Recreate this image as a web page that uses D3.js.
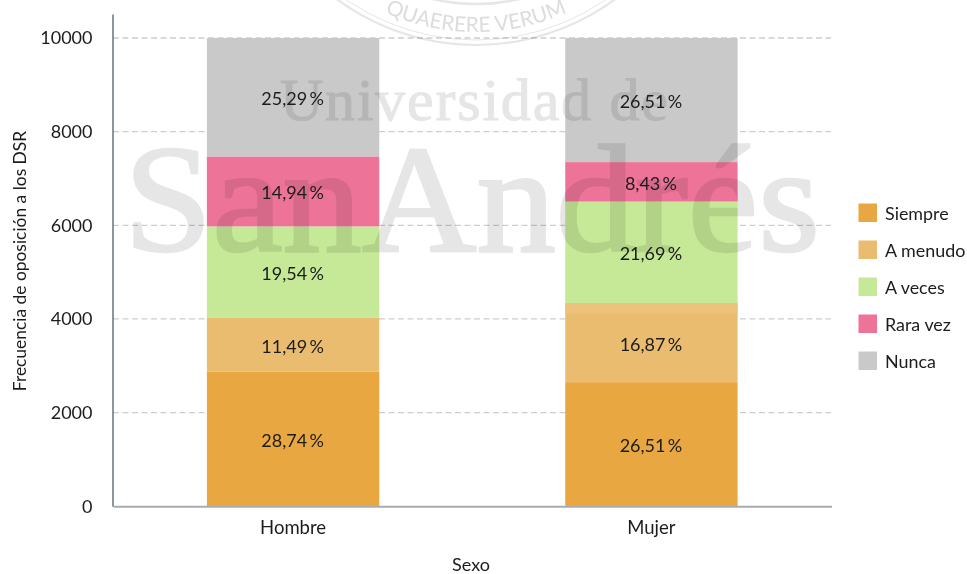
<!DOCTYPE html>
<html>
<head>
<meta charset="utf-8">
<script src="https://cdn.jsdelivr.net/npm/d3@7"></script>
<style>
html,body{margin:0;padding:0;background:#fff;}
svg{display:block;filter:blur(0.35px);}
text{font-family:Lato,"Open Sans",sans-serif;fill:#1c1c1c;}
</style>
</head>
<body>
<svg id="chart" width="967" height="574"></svg>
<script>
const categories = ["Hombre", "Mujer"];
const seriesNames = ["Siempre", "A menudo", "A veces", "Rara vez", "Nunca"];
const siempre = [28.74, 26.51];
const aMenudo = [11.49, 16.87];
const aVeces = [19.54, 21.69];
const raraVez = [14.94, 8.43];
const nunca = [25.29, 26.51];
const seriesValues = [siempre, aMenudo, aVeces, raraVez, nunca];
const seriesColors = ["#e9a741", "#eabc6f", "#c6e997", "#ee7399", "#c9c9c9"];
const yTicks = [0, 2000, 4000, 6000, 8000, 10000];
const totalFrequency = 10000;
const lightBandMujer = [4113, 4338];

const svg = d3.select("#chart");
const x = d3.scaleBand().domain(categories).range([113, 831.5]).paddingInner(0.519).paddingOuter(0.262);
const y = d3.scaleLinear().domain([0, 10512]).range([506.3, 14]);
const fmt = v => v.toFixed(2).replace(".", ",") + "\u2009%";

// grid
svg.append("g").selectAll("line").data(yTicks.slice(1)).join("line")
  .attr("x1", 113).attr("x2", 831).attr("y1", d => y(d)).attr("y2", d => y(d))
  .attr("stroke", "#cdcdcd").attr("stroke-width", 1.3).attr("stroke-dasharray", "6 3.5");

// stacks
const rows = categories.map((c, i) => {
  const r = { cat: c };
  seriesNames.forEach((s, k) => { r[s] = seriesValues[k][i]; });
  return r;
});
const stack = d3.stack().keys(seriesNames)(rows);
const per = v => v / 100 * totalFrequency;
const layers = svg.append("g").selectAll("g").data(stack).join("g")
  .attr("fill", (d, i) => seriesColors[i]);
layers.selectAll("rect").data(d => d).join("rect")
  .attr("x", d => x(d.data.cat)).attr("width", x.bandwidth())
  .attr("y", d => y(Math.min(per(d[1]), totalFrequency)))
  .attr("height", d => y(per(d[0])) - y(Math.min(per(d[1]), totalFrequency)));
svg.append("rect")
  .attr("x", x("Mujer")).attr("width", x.bandwidth())
  .attr("y", y(lightBandMujer[1])).attr("height", y(lightBandMujer[0]) - y(lightBandMujer[1]))
  .attr("fill", "#ecc27c");

// axes
const yAxis = d3.axisLeft(y).tickValues(yTicks).tickFormat(d3.format("d")).tickSize(0).tickPadding(20);
const yg = svg.append("g").attr("transform", "translate(112.5,0)").call(yAxis);
yg.select(".domain").attr("stroke", "#66707e").attr("stroke-width", 1.5);
yg.selectAll("text").attr("font-size", 18).attr("font-family", "Lato").attr("fill", "#1c1c1c");

const xAxis = d3.axisBottom(x).tickSize(0).tickPadding(15);
const xg = svg.append("g").attr("transform", "translate(0,506.3)").call(xAxis);
xg.select(".domain").attr("stroke", "#a9abb3").attr("stroke-width", 2);
xg.selectAll("text").attr("font-size", 18.5).attr("font-family", "Lato").attr("fill", "#1c1c1c");

// watermark
const wm = svg.append("g").style("mix-blend-mode", "multiply");
const wmColor = "#e6e6e6";
wm.append("text").text("SanAndrés").attr("x", 124).attr("y", 251)
  .attr("textLength", 696).attr("lengthAdjust", "spacingAndGlyphs")
  .style("font-family", "'Liberation Serif',serif").style("fill", wmColor)
  .style("stroke", wmColor).style("stroke-width", 2.5).style("paint-order", "stroke").attr("font-size", 152);
wm.append("text").text("Universidad de").attr("x", 280).attr("y", 120)
  .attr("textLength", 388).attr("lengthAdjust", "spacing")
  .style("font-family", "'Liberation Serif',serif").style("fill", wmColor)
  .style("stroke", wmColor).style("stroke-width", 1).attr("font-size", 60);
const cx = 476, cy = -189;
[[234, 2.2], [229, 1], [193, 2.5]].forEach(([r, w]) => {
  wm.append("circle").attr("cx", cx).attr("cy", cy).attr("r", r)
    .attr("fill", "none").attr("stroke", wmColor).attr("stroke-width", w);
});
const rt = 221;
const p = d3.path();
p.moveTo(cx - rt * Math.sin(0.6), cy + rt * Math.cos(0.6));
p.arc(cx, cy, rt, Math.PI / 2 + 0.6, Math.PI / 2 - 0.6, true);
svg.append("defs").append("path").attr("id", "sealArc").attr("d", p.toString());
wm.append("text").style("font-family", "Lato").style("fill", "#dcdcdc").attr("font-size", 21)
  .append("textPath").attr("href", "#sealArc").attr("startOffset", "50%").attr("text-anchor", "middle")
  .text("QUAERERE VERUM");

// percentage labels
const lg = svg.append("g");
stack.forEach((layer, k) => {
  layer.forEach(d => {
    lg.append("text").text(fmt(d[1] - d[0]))
      .attr("x", x(d.data.cat) + x.bandwidth() / 2 - 0.5)
      .attr("y", y((per(d[0]) + Math.min(per(d[1]), totalFrequency)) / 2) + 3.5)
      .attr("text-anchor", "middle").attr("dominant-baseline", "middle")
      .attr("font-size", 18);
  });
});

// axis titles
svg.append("text").text("Sexo").attr("x", 471).attr("y", 571).attr("text-anchor", "middle").attr("font-size", 18);
svg.append("text").text("Frecuencia de oposición a los DSR")
  .attr("transform", "translate(26,261) rotate(-90)").attr("text-anchor", "middle").attr("font-size", 17.4);

// legend
const leg = svg.append("g").selectAll("g").data(seriesNames).join("g")
  .attr("transform", (d, i) => `translate(858.5,${203.5 + i * 37})`);
leg.append("rect").attr("width", 18.5).attr("height", 18.5).attr("fill", (d, i) => seriesColors[i]);
leg.append("text").text(d => d).attr("x", 26.5).attr("y", 12)
  .attr("dominant-baseline", "middle").attr("font-size", 17.9);
</script>
</body>
</html>
